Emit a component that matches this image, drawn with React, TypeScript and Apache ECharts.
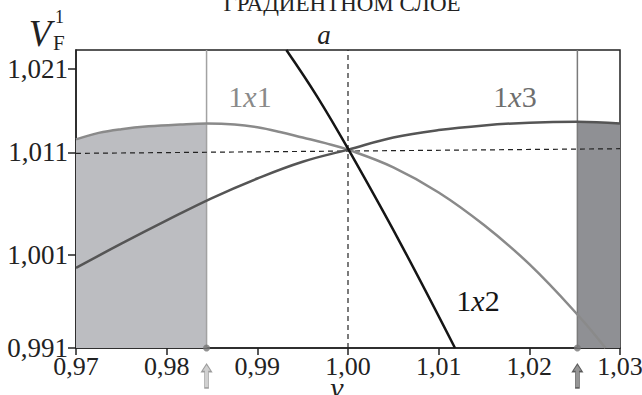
import React, { useEffect, useRef } from "react";
import * as echarts from "echarts";

// ---- data ----
const xMin = 0.97;
const xMax = 1.03;
const yMin = 0.991;
const yMax = 1.023;
const yTickValues = [0.991, 1.001, 1.012, 1.021];
const yTickLabels = ["0,991", "1,001", "1,011", "1,021"];

const c1x1X = [0.97, 0.9725, 0.975, 0.978, 0.9815, 0.9844, 0.9875, 0.99, 0.9925, 0.995, 0.9975, 1.0, 1.005, 1.01, 1.015, 1.02, 1.0253, 1.0284];
const c1x1Y = [1.0134, 1.0141, 1.0145, 1.0148, 1.015, 1.0151, 1.015, 1.0147, 1.0142, 1.0136, 1.013, 1.0123, 1.0104, 1.0077, 1.0042, 1.0, 0.9946, 0.991];

const c1x3X = [0.97, 0.975, 0.98, 0.985, 0.99, 0.995, 1.0, 1.005, 1.01, 1.015, 1.02, 1.0253, 1.03];
const c1x3Y = [0.9996, 1.0022, 1.0047, 1.0071, 1.0092, 1.011, 1.0123, 1.0136, 1.0144, 1.0149, 1.0152, 1.0153, 1.0151];

const c1x2X = [0.9932, 0.9966, 1.0, 1.0057, 1.0118];
const c1x2Y = [1.023, 1.018, 1.0124, 1.0024, 0.991];

const boundLeft = 0.9844;
const boundRight = 1.0253;
const dashedHX = [0.97, 1.03];
const dashedHY = [1.0119, 1.0124];
const dashedVX = 1.0;

const SERIF = '"Liberation Serif", "Times New Roman", serif';

const pairs = (xs: number[], ys: number[]) => xs.map((x, i) => [x, ys[i]]);

const curveLabel = (x: number, y: number, last: string, color: string) => ({
  type: "text",
  x,
  y,
  style: {
    text: `{n|1}{i|x}{n|${last}}`,
    align: "center",
    verticalAlign: "middle",
    rich: {
      n: { fontFamily: SERIF, fontSize: 30, fill: color, color },
      i: { fontFamily: SERIF, fontSize: 30, fontStyle: "italic", fill: color, color },
    },
  },
});

export default function App() {
  const ref = useRef<HTMLDivElement>(null);
  useEffect(() => {
    if (!ref.current) return;
    const chart = echarts.init(ref.current, null, { renderer: "svg" });
    const leftShade = pairs(c1x1X, c1x1Y).filter((p) => p[0] <= boundLeft + 1e-9);
    const rightShade = pairs(c1x3X, c1x3Y).filter((p) => p[0] >= boundRight - 1e-9);
    const arrowPath = "path://M5,0 L10,7 L7,7 L7,22 L3,22 L3,7 L0,7 Z";
    chart.setOption({
      animation: false,
      backgroundColor: "#ffffff",
      grid: {
        left: 76,
        right: 22,
        top: 50,
        bottom: 47,
        show: true,
        borderColor: "#222",
        borderWidth: 1.5,
        containLabel: false,
        outerBoundsMode: "none",
      },
      xAxis: {
        type: "value",
        min: xMin,
        max: xMax,
        interval: 0.01,
        axisLine: { lineStyle: { color: "#222", width: 1.5 } },
        axisTick: { length: 7, lineStyle: { color: "#222", width: 1.5 } },
        axisLabel: {
          color: "#222",
          fontFamily: SERIF,
          fontSize: 26,
          margin: 5,
          formatter: (v: number) => v.toFixed(2).replace(".", ","),
        },
        splitLine: { show: false },
      },
      yAxis: {
        type: "value",
        min: yMin,
        max: yMax,
        axisLine: { lineStyle: { color: "#222", width: 1.5 } },
        axisTick: { length: 8, customValues: yTickValues, lineStyle: { color: "#222", width: 1.5 } },
        axisLabel: {
          color: "#222",
          fontFamily: SERIF,
          fontSize: 27,
          margin: 8,
          customValues: yTickValues,
          formatter: (v: number) => {
            const i = yTickValues.findIndex((t) => Math.abs(t - v) < 1e-6);
            return i >= 0 ? yTickLabels[i] : "";
          },
        },
        splitLine: { show: false },
      },
      series: [
        {
          type: "line",
          data: leftShade,
          symbol: "none",
          smooth: 0.4,
          lineStyle: { width: 0 },
          areaStyle: { color: "#bcbdc1", opacity: 1, origin: "start" },
          z: 1,
        },
        {
          type: "line",
          data: rightShade,
          symbol: "none",
          smooth: 0.4,
          lineStyle: { width: 0 },
          areaStyle: { color: "#8f9094", opacity: 1, origin: "start" },
          z: 1,
        },
        {
          type: "line",
          data: [[boundLeft, yMin], [boundLeft, yMax]],
          symbol: "none",
          lineStyle: { color: "#a2a2a2", width: 1.5 },
          z: 2,
        },
        {
          type: "line",
          data: [[boundRight, yMin], [boundRight, yMax]],
          symbol: "none",
          lineStyle: { color: "#7a7a7a", width: 1.5 },
          z: 2,
        },
        {
          type: "line",
          data: pairs(dashedHX, dashedHY),
          symbol: "none",
          lineStyle: { color: "#222", width: 1.2, type: [5, 4] },
          z: 3,
        },
        {
          type: "line",
          data: [[dashedVX, yMin], [dashedVX, yMax]],
          symbol: "none",
          lineStyle: { color: "#222", width: 1.2, type: [5, 4] },
          z: 3,
        },
        {
          type: "line",
          data: pairs(c1x1X, c1x1Y),
          symbol: "none",
          smooth: 0.4,
          lineStyle: { color: "#8a8a8a", width: 2.5 },
          z: 4,
        },
        {
          type: "line",
          data: pairs(c1x3X, c1x3Y),
          symbol: "none",
          smooth: 0.4,
          lineStyle: { color: "#555555", width: 2.5 },
          z: 5,
        },
        {
          type: "line",
          data: pairs(c1x2X, c1x2Y),
          symbol: "none",
          smooth: 0.4,
          lineStyle: { color: "#151515", width: 2.5 },
          z: 6,
        },
        {
          type: "scatter",
          data: [[boundLeft, yMin], [boundRight, yMin]],
          symbol: "circle",
          symbolSize: 7,
          clip: false,
          itemStyle: { color: "#777" },
          z: 7,
        },
        {
          type: "scatter",
          data: [[boundLeft, yMin]],
          symbol: arrowPath,
          symbolSize: [10, 24],
          symbolOffset: [0, 28],
          clip: false,
          itemStyle: { color: "#c4c4c4", borderColor: "#8a8a8a", borderWidth: 1 },
          z: 7,
        },
        {
          type: "scatter",
          data: [[boundRight, yMin]],
          symbol: arrowPath,
          symbolSize: [10, 24],
          symbolOffset: [0, 28],
          clip: false,
          itemStyle: { color: "#7a7a7a", borderColor: "#444", borderWidth: 1 },
          z: 7,
        },
      ],
      graphic: [
        {
          type: "text",
          x: 342,
          y: 3,
          style: { text: "ГРАДИЕНТНОМ СЛОЕ", fontFamily: SERIF, fontSize: 23, fill: "#222", align: "center", verticalAlign: "middle" },
        },
        {
          type: "text",
          x: 324,
          y: 35,
          style: { text: "a", fontFamily: SERIF, fontSize: 27, fontStyle: "italic", fill: "#222", align: "center", verticalAlign: "middle" },
        },
        {
          type: "text",
          x: 40,
          y: 33,
          style: { text: "V", fontFamily: SERIF, fontSize: 37, fontStyle: "italic", fill: "#222", align: "center", verticalAlign: "middle" },
        },
        {
          type: "text",
          x: 53,
          y: 43,
          style: { text: "F", fontFamily: SERIF, fontSize: 21, fill: "#222", align: "left", verticalAlign: "middle" },
        },
        {
          type: "text",
          x: 55,
          y: 17,
          style: { text: "1", fontFamily: SERIF, fontSize: 18, fill: "#222", align: "left", verticalAlign: "middle" },
        },
        {
          type: "text",
          x: 337,
          y: 387,
          style: { text: "v", fontFamily: SERIF, fontSize: 30, fontStyle: "italic", fill: "#222", align: "center", verticalAlign: "middle" },
        },
        curveLabel(250, 96, "1", "#8a8a8a"),
        curveLabel(515, 96, "3", "#6e6e6e"),
        curveLabel(478, 300, "2", "#151515"),
      ],
    });
    return () => chart.dispose();
  }, []);
  return (
    <div
      ref={ref}
      style={{ position: "absolute", left: 0, top: 0, width: 642, height: 395, background: "#fff" }}
    />
  );
}
